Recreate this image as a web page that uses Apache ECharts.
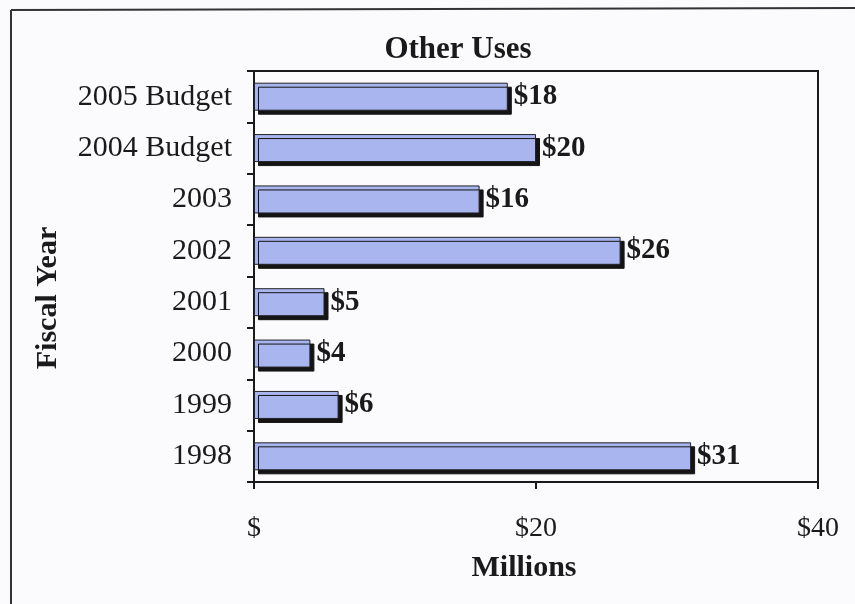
<!DOCTYPE html>
<html>
<head>
<meta charset="utf-8">
<style>
  html, body { margin: 0; padding: 0; background: #fbfbfd; }
  #chart { width: 855px; height: 604px; }
</style>
<script src="https://cdn.jsdelivr.net/npm/echarts@6/dist/echarts.min.js"></script>
</head>
<body>
<div id="chart"></div>
<script>
// Fiscal years, listed bottom to top as the category axis draws them
const years = ['1998', '1999', '2000', '2001', '2002', '2003', '2004 Budget', '2005 Budget'];
// Spending on other uses, millions of dollars
const amounts = [31, 6, 4, 5, 26, 16, 20, 18];
// Value axis ticks
const xTicks = [0, 20, 40];

const serif = '"Liberation Serif", "Times New Roman", serif';
const ink = '#1a1a1a';
const chart = echarts.init(document.getElementById('chart'), null, { renderer: 'canvas' });

chart.setOption({
  backgroundColor: '#fbfbfd',
  animation: false,
  title: {
    text: 'Other Uses',
    left: 453, top: 29, textAlign: 'center',
    textStyle: { fontFamily: serif, fontSize: 31, fontWeight: 'bold', color: ink }
  },
  grid: { left: 254, right: 37, top: 71, bottom: 122, show: true, borderColor: ink, borderWidth: 2, backgroundColor: 'transparent' },
  xAxis: {
    type: 'value', min: xTicks[0], max: xTicks[xTicks.length - 1], interval: 20,
    axisLine: { show: true, lineStyle: { color: ink, width: 2 } },
    axisTick: { show: true, length: 7, lineStyle: { color: ink, width: 2 } },
    splitLine: { show: false },
    axisLabel: {
      margin: 33, fontFamily: serif, fontSize: 28, color: ink,
      formatter: v => v === 0 ? '$' : '$' + v,
      alignMinLabel: 'center', alignMaxLabel: 'center'
    }
  },
  yAxis: {
    type: 'category', data: years,
    axisLine: { show: true, lineStyle: { color: ink, width: 2 } },
    axisTick: { show: true, length: 7, lineStyle: { color: ink, width: 2 } },
    axisLabel: { margin: 22, fontFamily: serif, fontSize: 30, color: ink }
  },
  series: [{
    type: 'bar',
    data: amounts,
    barWidth: 28,
    itemStyle: {
      color: '#a9b5ee',
      borderColor: '#222228',
      borderWidth: 1,
      shadowColor: '#141414',
      shadowBlur: 0,
      shadowOffsetX: 4,
      shadowOffsetY: 4
    },
    label: {
      show: true, position: 'right', distance: 6,
      fontFamily: serif, fontSize: 29, fontWeight: 'bold', color: ink,
      formatter: p => '$' + p.value
    }
  }],
  graphic: [
    // page frame
    { type: 'line', shape: { x1: 11, y1: 10, x2: 855, y2: 8 }, style: { stroke: '#333', lineWidth: 2 } },
    { type: 'line', shape: { x1: 11, y1: 10, x2: 11, y2: 604 }, style: { stroke: '#333', lineWidth: 2 } },
    // axis titles
    {
      type: 'text', x: 48, y: 298, rotation: Math.PI / 2,
      style: { text: 'Fiscal Year', font: 'bold 30px ' + serif, fill: ink, align: 'center', verticalAlign: 'middle' }
    },
    {
      type: 'text', x: 524, y: 568,
      style: { text: 'Millions', font: 'bold 30px ' + serif, fill: ink, align: 'center', verticalAlign: 'middle' }
    }
  ]
});
</script>
</body>
</html>
